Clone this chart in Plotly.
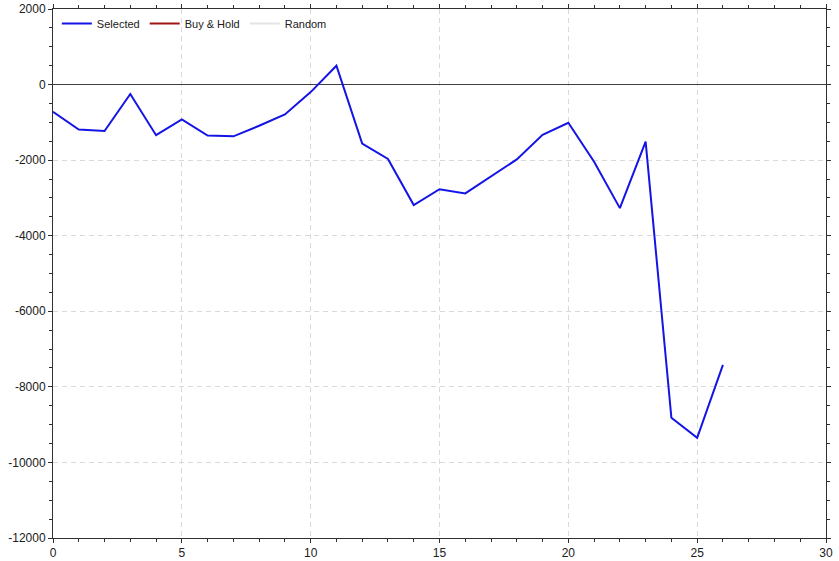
import plotly.graph_objects as go

periods = list(range(27))
selected = [-720, -1190, -1230, -250, -1340, -920, -1350, -1370, -1090, -790,
            -200, 500, -1560, -1970, -3190, -2770, -2880, -2420, -1980, -1330,
            -1010, -2040, -3270, -1510, -8820, -9350, -7420]
buy_hold = [None]
random_vals = [None]

x_ticks = [0, 5, 10, 15, 20, 25, 30]
y_ticks = [2000, 0, -2000, -4000, -6000, -8000, -10000, -12000]
y_tick_labels = [str(v) for v in y_ticks]

fig = go.Figure()
fig.add_trace(go.Scatter(x=periods, y=selected, mode="lines", name="Selected",
                         line=dict(color="#1414E6", width=2)))
fig.add_trace(go.Scatter(x=buy_hold, y=buy_hold, mode="lines", name="Buy & Hold",
                         line=dict(color="#A01414", width=2), showlegend=True))
fig.add_trace(go.Scatter(x=random_vals, y=random_vals, mode="lines", name="Random",
                         line=dict(color="#E4E4E4", width=2), showlegend=True))

axis_common = dict(
    showline=True, linecolor="#303030", linewidth=1, mirror="ticks",
    ticks="outside", ticklen=4, tickcolor="#303030",
    showgrid=True, gridcolor="#D9D9D9", griddash="5px,4px", gridwidth=1,
    tickfont=dict(family="Liberation Sans, Arial, sans-serif", size=12, color="#202020"),
    automargin=False,
)

fig.update_xaxes(range=[0, 30], tickvals=x_ticks, ticktext=[str(v) for v in x_ticks],
                 zeroline=False,
                 minor=dict(dtick=1, ticks="outside", ticklen=3, tickcolor="#303030", showgrid=False),
                 **axis_common)
fig.update_yaxes(range=[-12000, 2000], tickvals=y_ticks, ticktext=y_tick_labels,
                 zeroline=True, zerolinecolor="#404040", zerolinewidth=1,
                 minor=dict(dtick=500, ticks="outside", ticklen=3, tickcolor="#303030", showgrid=False),
                 **axis_common)

fig.update_layout(
    width=839, height=561,
    margin=dict(l=53, r=13, t=9, b=23),
    plot_bgcolor="white", paper_bgcolor="white",
    showlegend=True,
    legend=dict(orientation="h", x=0.005, y=1.0, xanchor="left", yanchor="top",
                bgcolor="rgba(0,0,0,0)",
                font=dict(family="Liberation Sans, Arial, sans-serif", size=11, color="#202020"),
                itemwidth=30),
)

fig.write_html("out.html", config={"displayModeBar": False},
               post_script="document.body.style.margin='0';document.body.style.overflow='hidden';")
